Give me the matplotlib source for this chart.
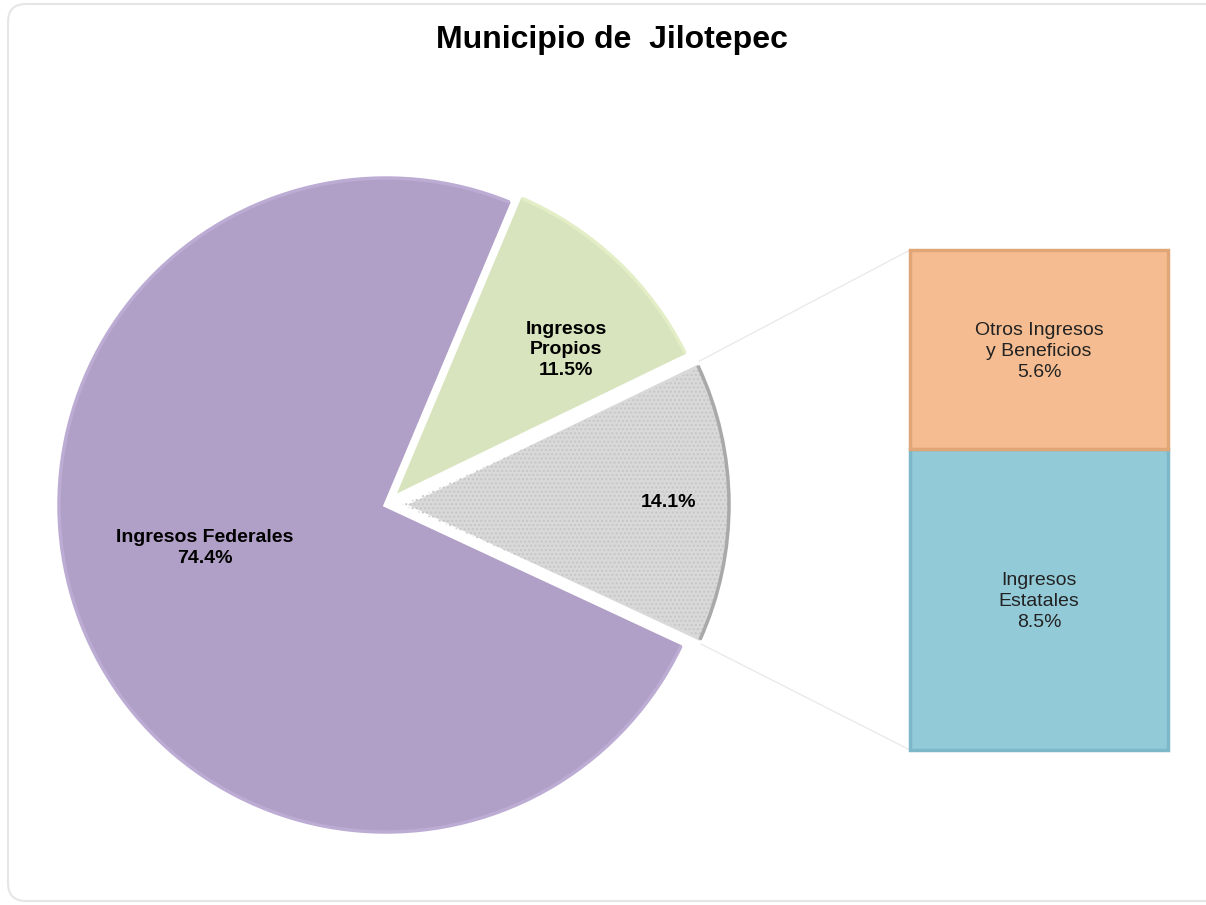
import numpy as np
import matplotlib.pyplot as plt
from matplotlib.patches import Arc, FancyBboxPatch, Wedge

plt.rcParams['font.family'] = ['Liberation Sans', 'DejaVu Sans']

# datos
pie_labels = ['Ingresos Federales', '', 'Ingresos\nPropios']
pie_values = [74.4, 14.1, 11.5]
pie_colors = ['#B09FC6', '#D9D9D9', '#D7E4BD']
pie_rims = ['#BCACD4', '#A9A9A9', '#E4EEC6']

bar_labels = ['Ingresos\nEstatales', 'Otros Ingresos\ny Beneficios']
bar_values = [8.5, 5.6]
bar_colors = ['#93CAD8', '#F4BC90']
bar_edges = ['#7DB8C9', '#E0A678']

H = 905
fig = plt.figure(figsize=(12.06, 9.05), dpi=100)
ax = fig.add_axes([0, 0, 1, 1])

# marco
frame = FancyBboxPatch((8, 4), 1220, H - 8, boxstyle='round,pad=0,rounding_size=18',
                       facecolor='white', edgecolor='#E6E6E6', linewidth=1.5, zorder=0)
ax.add_patch(frame)

ax.text(612, H - 40, 'Municipio de  Jilotepec', ha='center', va='center',
        fontsize=23, fontweight='bold', color='black')

# pastel (explode en pixeles: el radio no es 1)
cx, cy, R = 386, H - 505, 330
wedges, _ = ax.pie(pie_values, colors=pie_colors, startangle=67.2, counterclock=True,
                   center=(cx, cy), radius=R, explode=[0, 16, 9],
                   wedgeprops=dict(edgecolor='white', linewidth=3.5),
                   frame=True)
ax.set_xlim(0, 1206)
ax.set_ylim(0, H)
ax.set_aspect('equal')
ax.axis('off')

# textura punteada de la rebanada gris
gw = wedges[1]
ax.add_patch(Wedge(gw.center, gw.r - 4, gw.theta1 + 1, gw.theta2 - 1,
                   facecolor='none', edgecolor='#C6C6C6', hatch='....',
                   linewidth=0, zorder=2))

for w, rim in zip(wedges, pie_rims):
    ax.add_patch(Arc(w.center, 2 * (w.r - 3), 2 * (w.r - 3), theta1=w.theta1 + 0.6,
                     theta2=w.theta2 - 0.6, color=rim, linewidth=2.5, zorder=3))

# etiquetas del pastel
pie_text_pos = [(205, H - 548), (668, H - 503), (566, H - 350)]
for (tx, ty), lab, v in zip(pie_text_pos, pie_labels, pie_values):
    txt = f'{lab}\n{v:.1f}%' if lab else f'{v:.1f}%'
    ax.text(tx, ty, txt, ha='center', va='center', fontsize=14, fontweight='bold',
            linespacing=1.3, zorder=5)

# barra
bx0, bx1 = 910, 1168
btop, bbot = H - 250, H - 750
scale = (btop - bbot) / sum(bar_values)
bottoms = bbot + scale * np.concatenate([[0], np.cumsum(bar_values)[:-1]])
heights = scale * np.array(bar_values)
bars = ax.bar([(bx0 + bx1) / 2] * 2, heights, width=bx1 - bx0, bottom=bottoms,
              color=bar_colors, edgecolor=bar_edges, linewidth=2.5, zorder=3)
for b, lab, v in zip(bars, bar_labels, bar_values):
    ax.text(b.get_x() + b.get_width() / 2, b.get_y() + b.get_height() / 2 - 2,
            f'{lab}\n{v:.1f}%', ha='center', va='center', fontsize=14,
            color='#222222', linespacing=1.3, zorder=5)

# lineas de conexion
for ang, yb in [(gw.theta2, btop), (gw.theta1, bbot)]:
    px = gw.center[0] + gw.r * np.cos(np.radians(ang))
    py = gw.center[1] + gw.r * np.sin(np.radians(ang))
    ax.plot([px, bx0], [py, yb], color='#EAEAEA', linewidth=1, zorder=1)

fig.savefig('out.png', dpi=100)
